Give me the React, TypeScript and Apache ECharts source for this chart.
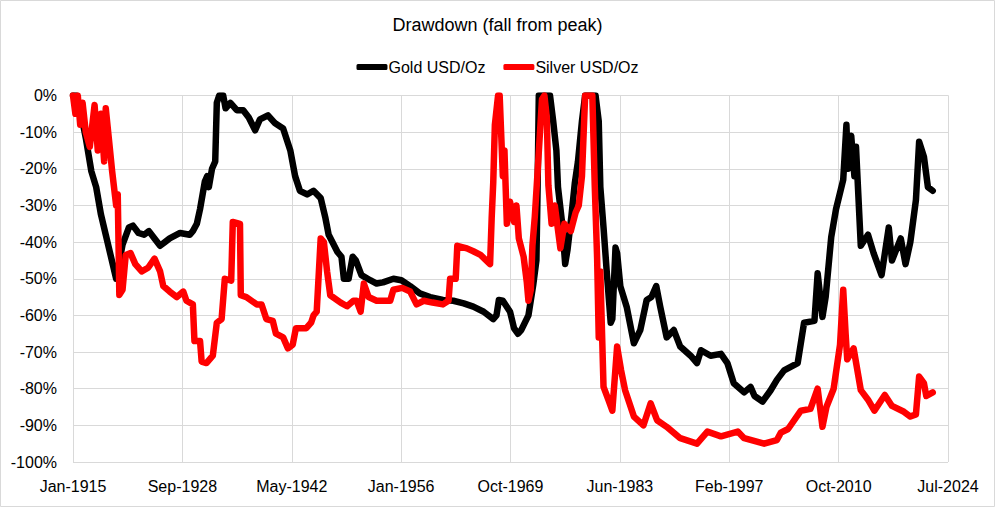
import React, { useEffect, useRef } from 'react';
import * as echarts from 'echarts';

// drawdown: [year, percent]
const goldPoints: [number, number][] = [
  [1915.0, 0], [1915.4, 0], [1915.8, -3], [1916.0, -5], [1916.6, -11.6], [1917.3, -20.7],
  [1917.9, -25], [1918.5, -32.5], [1919.1, -38], [1919.7, -43.5], [1920.4, -50], [1921.2, -40.7],
  [1922.0, -36], [1922.5, -35.5], [1923.2, -37.5], [1923.9, -38], [1924.5, -37], [1925.2, -39],
  [1925.9, -41], [1926.5, -40], [1927.1, -39], [1928.4, -37.5], [1929.6, -38], [1930.0, -37],
  [1930.5, -35], [1930.9, -31], [1931.5, -23.5], [1931.8, -22], [1932.0, -25], [1932.4, -20],
  [1932.8, -18], [1933.0, -2], [1933.3, 0], [1933.8, 0], [1934.1, -3.5], [1934.7, -2],
  [1935.5, -4], [1936.3, -4], [1937.0, -6], [1937.8, -9.5], [1938.4, -6.5], [1939.4, -5.4],
  [1940.3, -7.6], [1941.3, -9], [1942.2, -15], [1942.8, -22], [1943.4, -26], [1944.3, -27],
  [1945.1, -26], [1946.0, -28], [1946.6, -33.5], [1947.0, -38], [1948.1, -42.7], [1948.6, -44],
  [1948.9, -50], [1949.5, -50], [1950.0, -44], [1950.4, -45], [1951.1, -49], [1952.2, -50.4],
  [1953.0, -51.3], [1953.8, -51], [1955.1, -50], [1956.1, -50.4], [1957.2, -52], [1958.4, -54],
  [1959.7, -55], [1961.3, -55.8], [1962.6, -56], [1963.9, -56.7], [1965.1, -57.6], [1966.4, -59],
  [1967.6, -61], [1968.0, -60], [1968.3, -55.8], [1968.8, -56], [1969.7, -59], [1970.2, -63.5],
  [1970.7, -65], [1971.1, -64], [1972.0, -60], [1972.6, -51.7], [1973.0, -45], [1973.15, -25],
  [1973.3, 0], [1974.7, 0], [1975.1, -7], [1975.5, -15], [1975.7, -25], [1976.2, -34.5],
  [1976.6, -46], [1976.9, -42], [1977.4, -32.5], [1977.8, -24], [1978.2, -18], [1978.7, -7],
  [1979.1, 0], [1980.4, 0], [1980.8, -7], [1981.0, -25], [1981.4, -36], [1981.8, -48],
  [1982.3, -62], [1982.5, -61], [1982.9, -41.5], [1983.1, -43], [1983.5, -52], [1984.3, -57.7],
  [1985.2, -67.6], [1986.0, -64], [1986.8, -55.8], [1987.4, -55], [1988.0, -52], [1988.5, -57.7],
  [1989.3, -66], [1990.2, -64], [1991.0, -68.5], [1992.3, -71], [1993.1, -73], [1993.6, -69.5],
  [1994.8, -71], [1996.1, -70.5], [1996.9, -73], [1997.7, -78.5], [1999.0, -81], [1999.8, -79.5],
  [2000.3, -82], [2001.3, -83.5], [2002.3, -80.5], [2003.1, -77.6], [2004.0, -75], [2005.7, -73],
  [2006.5, -62], [2007.8, -61.5], [2008.2, -48.5], [2008.8, -60.4], [2009.2, -55], [2009.9, -38.6],
  [2010.5, -31], [2011.4, -23], [2011.8, -8], [2012.0, -20], [2012.4, -11], [2012.8, -22],
  [2013.0, -14], [2013.6, -41], [2014.5, -38], [2015.2, -43], [2016.2, -49], [2017.1, -36],
  [2017.5, -45], [2018.6, -39], [2019.2, -46], [2019.8, -40], [2020.5, -28.5], [2020.9, -12.6],
  [2021.5, -16.7], [2022.0, -25], [2022.6, -26],
];

const silverPoints: [number, number][] = [
  [1915.0, 0], [1915.3, -5], [1915.6, 0], [1915.9, -8], [1916.2, -2], [1916.6, -10],
  [1917.1, -14], [1917.7, -2.6], [1918.1, -15], [1918.5, -5], [1918.9, -18], [1919.1, -3.5],
  [1919.5, -12], [1919.9, -20.7], [1920.4, -30], [1920.6, -27], [1920.8, -54.4], [1921.2, -53],
  [1921.6, -43.5], [1922.2, -43], [1922.8, -46], [1923.6, -48], [1924.4, -47], [1925.2, -44.5],
  [1925.9, -48], [1926.3, -52], [1927.1, -53.5], [1928.0, -55], [1928.8, -53.5], [1929.2, -56],
  [1930.0, -57], [1930.2, -67], [1930.9, -67], [1931.1, -72.6], [1931.7, -73], [1932.5, -71],
  [1933.0, -62], [1933.6, -61], [1934.0, -50], [1934.8, -50.5], [1935.0, -34.5], [1935.9, -35],
  [1936.0, -54.5], [1936.7, -55], [1938.0, -57], [1938.6, -57], [1939.2, -61], [1940.0, -61.5],
  [1940.4, -65], [1941.3, -66], [1941.9, -69], [1942.5, -68], [1942.9, -63.5], [1944.2, -63.5],
  [1944.8, -62], [1945.1, -60], [1945.5, -59], [1946.0, -39], [1946.4, -40], [1946.8, -48],
  [1947.2, -54.5], [1948.5, -56.5], [1949.3, -57.5], [1950.1, -56], [1950.5, -56], [1951.0, -59],
  [1951.4, -51.3], [1952.0, -55], [1953.0, -56], [1954.7, -56], [1955.1, -53], [1956.2, -52.5],
  [1957.2, -53.5], [1958.0, -57], [1958.9, -56], [1960.0, -56.5], [1961.3, -57], [1962.0, -56],
  [1962.2, -50], [1962.9, -50], [1963.1, -41], [1964.3, -41.7], [1965.1, -42.5], [1966.0, -43.5],
  [1967.2, -46], [1967.4, -33.5], [1967.6, -23.6], [1967.8, -8], [1968.2, 0], [1968.4, 0],
  [1968.8, -22], [1969.0, -15], [1969.3, -35], [1969.7, -29], [1970.2, -34.5], [1970.5, -30],
  [1970.8, -39], [1971.4, -44], [1971.8, -51], [1972.0, -56], [1972.3, -53], [1972.5, -41],
  [1972.8, -33], [1973.1, -22.5], [1973.7, -1], [1974.0, 0], [1974.3, -6], [1974.5, -24.5],
  [1974.9, -35], [1975.3, -30], [1976.0, -41.7], [1976.5, -35], [1977.3, -37], [1977.9, -32],
  [1978.3, -30], [1978.7, -22], [1979.1, 0], [1980.0, 0], [1980.3, -24.5], [1980.6, -44.5],
  [1980.8, -66], [1981.0, -48], [1981.4, -79.5], [1982.0, -83], [1982.5, -86], [1983.1, -68.5],
  [1983.6, -75], [1984.1, -80.4], [1985.2, -87.6], [1986.4, -90], [1987.3, -84], [1988.1, -88.6],
  [1989.3, -90.4], [1991.0, -93.5], [1993.1, -95], [1994.4, -91.7], [1996.1, -93], [1998.2, -91.7],
  [1999.0, -93.5], [2001.5, -95], [2003.1, -94], [2003.6, -92], [2004.5, -91], [2006.1, -86],
  [2007.3, -85.5], [2008.2, -80], [2008.8, -90.4], [2009.3, -85], [2010.2, -80], [2011.0, -68],
  [2011.4, -53], [2011.7, -65], [2011.9, -72], [2012.7, -69], [2013.6, -80.4], [2014.5, -83],
  [2015.3, -86], [2016.6, -81.7], [2017.5, -84.7], [2019.0, -86.3], [2019.8, -87.6], [2020.5, -87],
  [2020.9, -76.7], [2021.5, -78.5], [2021.8, -82], [2022.6, -81],
];

const seriesNames = ['Gold USD/Oz', 'Silver USD/Oz'];
const seriesColors = ['#000000', '#ff0000'];
const monthNames = ['Jan', 'Feb', 'Mar', 'Apr', 'May', 'Jun', 'Jul', 'Aug', 'Sep', 'Oct', 'Nov', 'Dec'];

const START = Date.UTC(1915, 0, 1);
const DAY = 86400000;
// excel date axis: days from the first date, major unit 5000 days
const toDays = (year: number) => (year - 1915) * 365.25;

const font = 'Liberation Sans, Arial, sans-serif';

const App: React.FC = () => {
  const chartRef = useRef<HTMLDivElement>(null);

  useEffect(() => {
    document.body.style.margin = '0';
    const chartDom = chartRef.current!;
    const myChart = echarts.init(chartDom, undefined, { renderer: 'svg' });

    const option: echarts.EChartsOption = {
      animation: false,
      backgroundColor: '#ffffff',
      textStyle: { fontFamily: font },
      title: {
        text: 'Drawdown (fall from peak)',
        left: 'center',
        top: 11,
        textStyle: { fontSize: 18, fontWeight: 'normal', color: '#000', fontFamily: font },
      },
      legend: {
        top: 54,
        left: 'center',
        itemWidth: 31,
        itemHeight: 6,
        itemGap: 18,
        icon: 'roundRect',
        textStyle: { fontSize: 16, color: '#000', fontFamily: font, padding: [0, 0, 0, -4] },
        data: seriesNames,
      },
      graphic: [
        {
          type: 'rect',
          shape: { x: 0.5, y: 0.5, width: 994, height: 506 },
          style: { fill: 'none', stroke: '#d9d9d9', lineWidth: 1 },
          silent: true,
        },
      ],
      grid: { left: 73, right: 47, top: 95.5, bottom: 45 },
      xAxis: {
        type: 'value',
        min: 0,
        max: 40000,
        interval: 5000,
        axisLine: { show: true, lineStyle: { color: '#d9d9d9' } },
        axisTick: { show: false },
        splitLine: { show: true, lineStyle: { color: '#d9d9d9', width: 1 } },
        axisLabel: {
          margin: 16,
          fontSize: 16,
          color: '#000',
          fontFamily: font,
          formatter: (v: number) => {
            const d = new Date(START + v * DAY);
            return `${monthNames[d.getUTCMonth()]}-${d.getUTCFullYear()}`;
          },
        },
      },
      yAxis: {
        type: 'value',
        min: -100,
        max: 0,
        interval: 10,
        axisLine: { show: true, lineStyle: { color: '#d9d9d9' } },
        axisTick: { show: false },
        splitLine: { show: true, lineStyle: { color: '#d9d9d9', width: 1 } },
        axisLabel: {
          margin: 16,
          fontSize: 16,
          color: '#000',
          fontFamily: font,
          formatter: (v: number) => `${v}%`,
        },
      },
      series: [goldPoints, silverPoints].map((pts, i) => ({
        name: seriesNames[i],
        type: 'line' as const,
        data: pts.map(([y, v]) => [toDays(y), v]),
        showSymbol: false,
        symbol: 'none',
        color: seriesColors[i],
        lineStyle: { color: seriesColors[i], width: 6.5, join: 'round' as const, cap: 'round' as const },
      })),
    };

    myChart.setOption(option);

    return () => {
      myChart.dispose();
    };
  }, []);

  return <div ref={chartRef} style={{ width: 995, height: 507 }} />;
};

export default App;
